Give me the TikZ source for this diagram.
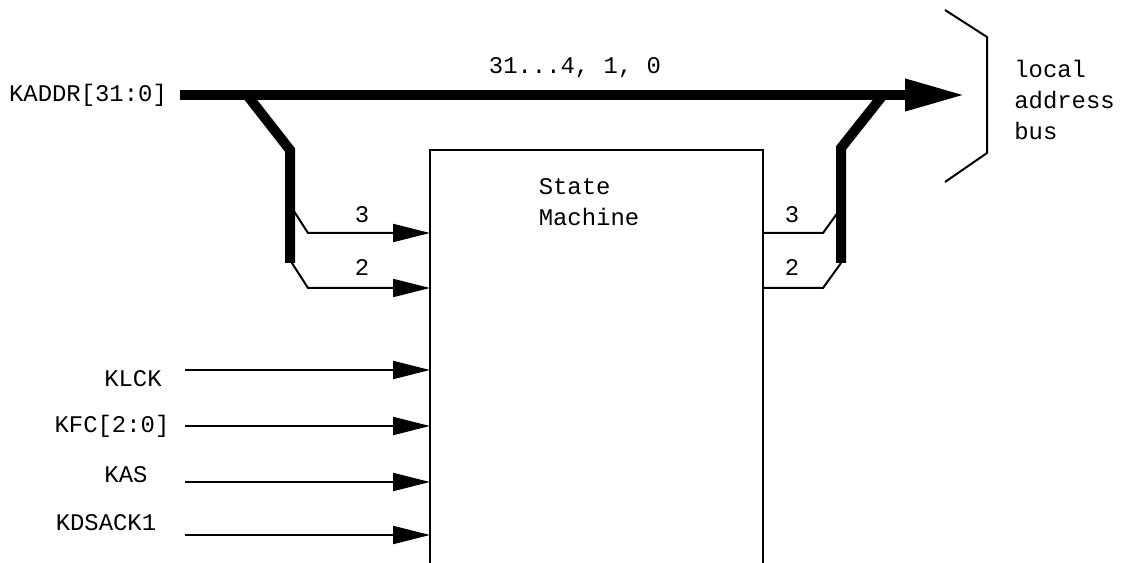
\documentclass[tikz,border=0pt]{standalone}
\usepackage{fontspec}
\setmonofont{Liberation Mono}
\usetikzlibrary{arrows.meta,positioning}
\tikzset{
  lbl/.style={font=\ttfamily\fontsize{13.6}{17.8}\selectfont,inner sep=0pt},
  sig/.style={line width=0.04cm},
  sigarr/.style={sig,-{Triangle[length=0.74cm,width=0.36cm]}},
  bus/.style={line width=0.2cm},
  busarr/.style={bus,-{Triangle[length=1.2cm,width=0.6cm]}},
}
\begin{document}
\begin{tikzpicture}[x=0.02cm,y=-0.02cm]
\useasboundingbox (0,0) rectangle (1121,563);
% state machine block, open at the bottom
\draw[sig] (430,563) |- (763,150) -- (763,563);
\node[lbl,align=left] (sm) at (589,202) {State\\Machine};
% main address bus
\node[lbl] (kaddr) at (88,95) {KADDR[31:0]};
\node[lbl] (bits) at (575,68) {31...4, 1, 0};
\coordinate (busS) at (180,95);
\coordinate (busE) at (965,95);
\draw[busarr] (busS) -- (busE);
% local address bus bracket
\draw[sig] (945,10) -- (987,37) -- (987,153) -- (945,182);
\node[lbl,align=left,anchor=west] (lab) at (1014,100) {local\\address\\bus};
% left tap into the state machine
\coordinate (lt0) at (247,95);
\coordinate (lt1) at (290,150);
\coordinate (lt2) at (290,263);
\coordinate (in3) at (430,233);
\coordinate (in2) at (430,288);
\draw[sigarr] (290,205) -- (308,233) -- (in3);
\draw[sigarr] (290,260) -- (308,288) -- (in2);
\draw[bus] (lt0) -- (lt1) -- (lt2);
\node[lbl] (l3) at (362,215) {3};
\node[lbl] (l2) at (362,268) {2};
% right tap back onto the bus
\coordinate (rt0) at (883,95);
\coordinate (rt1) at (841,148);
\coordinate (rt2) at (841,263);
\coordinate (out3) at (763,233);
\coordinate (out2) at (763,288);
\draw[sig] (out3) -- (823,233) -- (841,208);
\draw[sig] (out2) -- (823,288) -- (841,263);
\draw[bus] (rt0) -- (rt1) -- (rt2);
\node[lbl] (r3) at (792,215) {3};
\node[lbl] (r2) at (792,268) {2};
% control inputs
\foreach \nm/\txt/\cx/\ty/\ay in {klck/KLCK/133/379/370,
    kfc/{KFC[2:0]}/112/426/426, kas/KAS/126/475/482,
    kdsack/KDSACK1/106/523/535}{
  \node[lbl] (\nm) at (\cx,\ty) {\txt};
  \coordinate (\nm-s) at (185,\ay);
  \coordinate (\nm-e) at (430,\ay);
  \draw[sigarr] (\nm-s) -- (\nm-e);
}
\end{tikzpicture}
\end{document}
